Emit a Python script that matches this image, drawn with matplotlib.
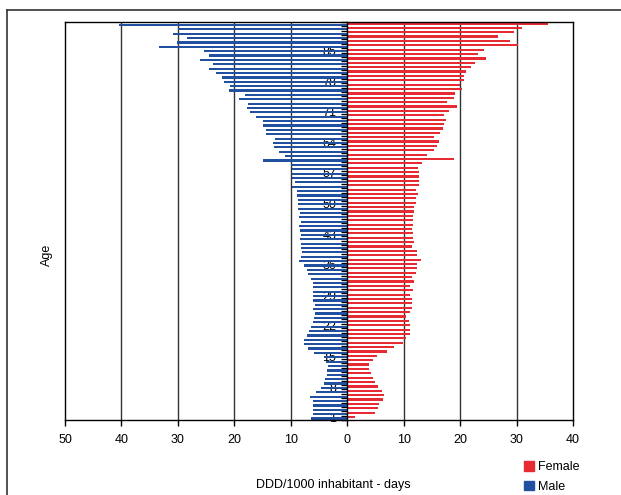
import numpy as np
import matplotlib.pyplot as plt
from matplotlib.lines import Line2D
from matplotlib.patches import Patch
from matplotlib.ticker import FixedLocator, FuncFormatter

plt.rcParams['font.family'] = ['Liberation Sans', 'DejaVu Sans']

# age 1 .. 91
ages = list(range(1, 92))
male = [6.4, 6.0, 6.0, 6.0, 6.0, 6.6, 5.5, 4.6, 4.1, 3.9,
        3.5, 3.5, 3.35, 3.7, 4.2, 5.8, 6.9, 7.6, 7.6, 7.1,
        6.7, 6.5, 6.0, 5.8, 5.7, 6.0, 5.7, 6.0, 6.0, 6.0,
        6.0, 6.0, 6.4, 6.9, 7.1, 7.6, 8.5, 8.2, 8.0, 8.2,
        8.2, 8.3, 8.2, 8.3, 8.5, 8.2, 8.5, 8.3, 8.7, 8.7,
        8.7, 8.9, 8.9, 9.75, 9.2, 9.75, 9.75, 9.75, 10.0, 14.9,
        11.0, 12.1, 13.0, 13.2, 12.8, 14.4, 14.4, 14.9, 14.9, 16.2,
        17.2, 17.8, 17.6, 19.2, 18.1, 21.0, 20.8, 21.9, 22.2, 23.3,
        24.4, 23.7, 26.0, 24.4, 25.3, 33.4, 30.1, 28.3, 30.8, 29.9,
        40.4]
female = [1.45, 5.0, 5.4, 5.7, 6.25, 6.6, 6.1, 5.4, 5.0, 4.65,
          4.3, 3.9, 3.8, 4.65, 5.2, 7.0, 8.2, 9.8, 10.5, 11.1,
          11.1, 11.2, 10.9, 10.5, 11.1, 11.4, 11.4, 11.4, 11.2, 11.6,
          11.2, 11.8, 11.4, 12.1, 12.3, 12.3, 13.0, 12.3, 12.3, 11.4,
          11.8, 11.6, 11.6, 11.4, 11.6, 11.6, 11.6, 11.8, 11.9, 12.1,
          12.1, 12.5, 12.1, 12.7, 12.8, 12.7, 12.7, 12.5, 13.2, 18.9,
          14.1, 15.3, 15.9, 16.2, 15.4, 16.5, 17.0, 17.2, 17.5, 17.2,
          18.1, 19.5, 17.7, 19.0, 19.1, 20.4, 20.0, 20.7, 20.7, 21.1,
          22.0, 22.7, 24.5, 23.2, 24.3, 30.2, 28.9, 26.8, 29.6, 30.9,
          35.5]
age_labels = list(range(1, 92, 7))
x_ticks = list(range(-50, 41, 10))

blue = '#2150A0'
red = '#E62B33'

fig = plt.figure(figsize=(6.21, 4.95), dpi=100)
ax = fig.add_axes([65/621, 75/495, 508/621, 398/495])

y = np.array(ages)
ax.barh(y - 0.17, [-v for v in male], height=0.5, color=blue, zorder=2)
ax.barh(y + 0.17, female, height=0.5, color=red, zorder=2)

for gx in x_ticks[1:-1]:
    if gx != 0:
        ax.axvline(gx, color='#333333', lw=1, zorder=0)

ax.set_xlim(-50, 40)
ax.set_ylim(0.5, 91.5)

ax.set_xticks(x_ticks)
ax.xaxis.set_major_formatter(FuncFormatter(lambda v, p: '%d' % abs(v)))
ax.tick_params(axis='x', direction='out', length=4, width=1, pad=6,
               labelsize=9, color='black')

# category axis sits at zero
ax.spines['left'].set_position(('data', 0))
ax.spines['left'].set_zorder(3)
ax.yaxis.set_major_locator(FixedLocator(age_labels))
ax.yaxis.set_minor_locator(FixedLocator(np.arange(0.5, 92, 1)))
ax.tick_params(axis='y', which='major', length=0, pad=8, labelsize=9)
ax.tick_params(axis='y', which='minor', direction='out', length=4, width=1, color='black')
for s in ['top', 'right', 'bottom', 'left']:
    ax.spines[s].set_linewidth(1)
ax.plot([0, 0], [0, 1], transform=ax.transAxes, color='black', lw=1, clip_on=False)

fig.text(47/621, 1 - 255/495, 'Age', rotation=90, ha='center', va='center', fontsize=9)
fig.text(333/621, 1 - 485/495, 'DDD/1000 inhabitant - days', ha='center', va='center', fontsize=9)

handles = [Patch(color=red, label='Female'), Patch(color=blue, label='Male')]
fig.legend(handles=handles, loc='upper left', bbox_to_anchor=(518/621, 1 - 455/495),
           frameon=False, fontsize=9, handlelength=0.8, handleheight=0.8,
           handletextpad=0.3, labelspacing=0.6, borderpad=0)

# outer chart border
fig.add_artist(Line2D([7/621, 7/621], [0, 1 - 10/495], color='#333333', lw=1.2))
fig.add_artist(Line2D([7/621, 1], [1 - 10/495, 1 - 10/495], color='#333333', lw=1.2))

fig.savefig('out.png', dpi=100)
